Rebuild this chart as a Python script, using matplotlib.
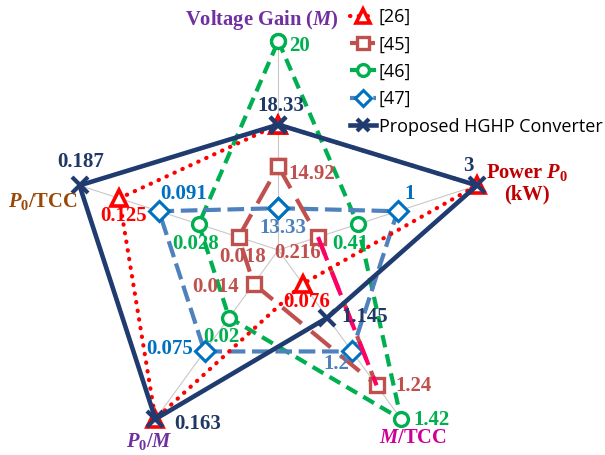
import matplotlib
matplotlib.use('Agg')
import matplotlib.pyplot as plt
import numpy as np

plt.rcParams['mathtext.fontset'] = 'custom'
plt.rcParams['mathtext.rm'] = 'Liberation Serif:bold'
plt.rcParams['mathtext.it'] = 'Liberation Serif:bold:italic'
plt.rcParams['mathtext.bf'] = 'Liberation Serif:bold'

# axes (clockwise from top)
categories = ['Voltage Gain ($M$)', 'Power $P_0$\n(kW)', '$M$/TCC', '$P_0$/$M$', '$P_0$/TCC']

# normalised radial level of each design on each axis
r_26 = [0.6, 1.0, 0.2, 1.0, 0.8]
r_45 = [0.4, 0.2, 0.8, 0.2, 0.2]
r_46 = [1.0, 0.4, 1.0, 0.4, 0.4]
r_47 = [0.2, 0.6, 0.6, 0.6, 0.6]
r_prop = [0.6, 1.0, 0.4, 1.0, 1.0]

# value labels (None -> shared with another series, not repeated)
lab_26 = [None, None, '0.076', None, '0.125']
lab_45 = ['14.92', '0.216', '1.24', '0.014', '0.018']
lab_46 = ['20', '0.41', '1.42', '0.02', '0.028']
lab_47 = ['13.33', '1', '1.2', '0.075', '0.091']
lab_prop = ['18.33', '3', '1.145', '0.163', '0.187']

names = ['[26]', '[45]', '[46]', '[47]', 'Proposed HGHP Converter']

theta = np.deg2rad(np.arange(5) * 72.0)

def closed(v):
    return list(v) + [v[0]]

fig = plt.figure(figsize=(6.05, 4.55), dpi=100)
ax = fig.add_axes([0.1145, -0.0088, 418 / 605, 418 / 455], projection='polar')
ax.set_theta_offset(np.pi / 2)
ax.set_theta_direction(-1)
ax.set_ylim(0, 1)
ax.grid(False)
ax.spines['polar'].set_visible(False)
ax.set_xticks([])
ax.set_yticks([])
ax.patch.set_alpha(0)

th = closed(theta)

# spokes
for t in theta:
    ax.plot([t, t], [0, 1], color='#C8C8C8', lw=0.8, zorder=1, clip_on=False)

ax.plot(th, closed(r_46), color='#00B050', lw=3, ls=(0, (3, 1.7)),
        marker='o', ms=10, mfc='white', mec='#00B050', mew=2.4,
        label=names[2], zorder=2, clip_on=False)
ax.plot(th, closed(r_47), color='#4F81BD', lw=3, ls=(0, (4, 1.6)),
        marker='D', ms=10, mfc='white', mec='#0070C0', mew=2.2,
        label=names[3], zorder=3, clip_on=False)
ax.plot(th, closed(r_45), color='#C0504D', lw=3, ls=(0, (6, 3)),
        marker='s', ms=10, mfc='white', mec='#C0504D', mew=2.4,
        label=names[1], zorder=4, clip_on=False)
# highlighted segment of [45]
ax.plot(theta[1:3], r_45[1:3], color='#FF0066', lw=3, ls=(0, (6, 3)), zorder=4)
ax.plot(th, closed(r_26), color='#FF0000', lw=3, ls=(0, (0.1, 2)),
        dash_capstyle='round', marker='^', ms=12, mfc='white',
        mec='#FF0000', mew=2.6, label=names[0], zorder=5, clip_on=False)
ax.plot(th, closed(r_prop), color='#1F3B70', lw=3.3, marker='x', ms=11,
        mew=3, label=names[4], zorder=6, clip_on=False)

# value labels
label_sets = [
    (r_prop, lab_prop, ['#1F3864'] * 5,
     [(3, 19), (-9, 19), (37, 1), (42, -5), (1, 23)]),
    (r_45, lab_45, ['#C0504D'] * 5,
     [(33, -8), (-20, -16), (37, -1), (-38, -3), (4, -20)]),
    (r_46, lab_46, ['#00B050'] * 5,
     [(21, -5), (-7, -20), (30, -1), (-8, -19), (-3, -20)]),
    (r_47, lab_47, ['#4F81BD', '#0070C0', '#4F81BD', '#0070C0', '#0070C0'],
     [(5, -20), (12, 17), (-16, -13), (-35, 2), (25, 17)]),
    (r_26, lab_26, ['#FF0000'] * 5,
     [None, None, (4, -18), None, (4, -18)]),
]
for rv, labs, cols, offs in label_sets:
    for t, r, s, c, o in zip(theta, rv, labs, cols, offs):
        if s is None:
            continue
        ax.annotate(s, (t, r), xytext=o, textcoords='offset pixels',
                    ha='center', va='center', color=c, fontsize=15,
                    fontweight='bold', family='Liberation Serif', zorder=7,
                    annotation_clip=False)

# axis titles
title_pos = [(262, 20), (527, 183), (413, 438), (149, 442), (43, 201)]
title_col = ['#7030A0', '#C00000', '#CC0099', '#7030A0', '#984807']
for s, (px, py), c in zip(categories, title_pos, title_col):
    fig.text(px / 605, 1 - py / 455, s, ha='center', va='center', color=c,
             fontsize=14.8, fontweight='bold', family='Liberation Serif',
             linespacing=1.1)

handles, labels = ax.get_legend_handles_labels()
order = [labels.index(n) for n in names]
leg = fig.legend([handles[i] for i in order], [labels[i] for i in order],
                 loc='upper left', bbox_to_anchor=(350 / 605, 1 - 8 / 455),
                 frameon=False, prop={'family': 'Open Sans', 'size': 13},
                 handlelength=1.45, handletextpad=0.15, labelspacing=0.52,
                 borderpad=0, borderaxespad=0, markerscale=0.85)

fig.savefig('out.png', dpi=100)
